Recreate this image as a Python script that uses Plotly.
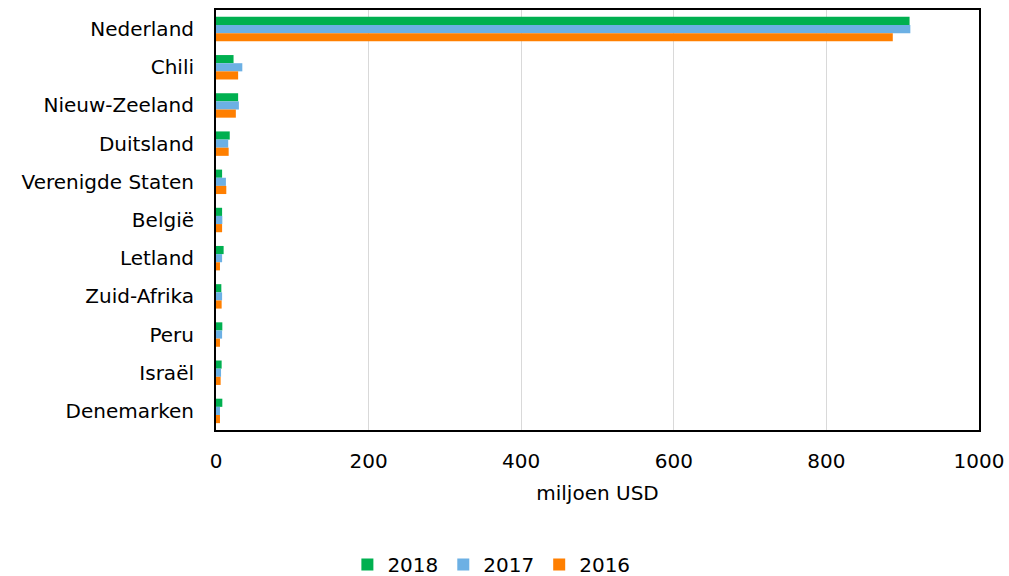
import plotly.graph_objects as go

countries = ["Nederland", "Chili", "Nieuw-Zeeland", "Duitsland", "Verenigde Staten",
             "België", "Letland", "Zuid-Afrika", "Peru", "Israël", "Denemarken"]
v2018 = [909, 23, 29, 18, 8, 8, 10, 7, 8.3, 7.4, 8.3]
v2017 = [910, 34.5, 30, 16, 13, 8.3, 8, 8, 8, 6.6, 5.2]
v2016 = [887, 29, 26, 16.6, 13.5, 8, 5.2, 7.4, 5.2, 6.1, 5.2]
years = ["2018", "2017", "2016"]
colors = ["#00B050", "#6CB0E4", "#FF7F00"]

FS = 20

fig = go.Figure()
for name, vals, c in zip(years, [v2018, v2017, v2016], colors):
    fig.add_trace(go.Bar(y=countries, x=vals, name=name, orientation="h",
                         marker=dict(color=c, line=dict(width=0))))

fig.update_layout(
    width=1009, height=576,
    barmode="group", bargap=0.36, bargroupgap=0,
    plot_bgcolor="white", paper_bgcolor="white",
    font=dict(family="DejaVu Sans, Verdana, sans-serif", size=FS, color="#000000"),
    margin=dict(l=216, r=30, t=10, b=146),
    xaxis=dict(range=[0, 1000], dtick=200, showgrid=True, gridcolor="#D9D9D9", gridwidth=1,
               showline=True, linecolor="#000000", linewidth=2, mirror=True,
               ticks="", zeroline=False, automargin=False, ticklabelstandoff=12,
               tickfont=dict(size=FS),
               title=dict(text="miljoen USD", standoff=14, font=dict(size=FS))),
    yaxis=dict(autorange="reversed", showline=True, linecolor="#000000", linewidth=2,
               mirror=True, ticks="", ticklabelstandoff=16, automargin=False,
               tickfont=dict(size=FS)),
    legend=dict(orientation="h", xref="container", yref="container",
                x=0.487, xanchor="center", y=0.02, yanchor="middle",
                font=dict(size=FS), traceorder="normal", itemwidth=30),
)
fig.write_html("out.html", config={"displayModeBar": False},
               post_script="document.body.style.margin='0';")
